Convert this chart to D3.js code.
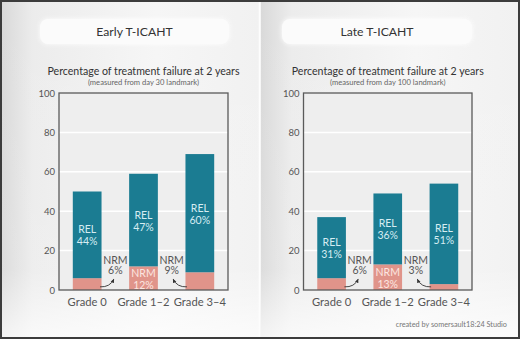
<!DOCTYPE html>
<html><head><meta charset="utf-8">
<script src="https://cdn.jsdelivr.net/npm/d3@7"></script>
<style>
html,body{margin:0;padding:0;background:#fff;}
svg{display:block;font-family:Lato,"Open Sans",sans-serif;}
</style></head><body>
<script>
// ---- data ----
const categories = ["Grade 0", "Grade 1\u20132", "Grade 3\u20134"];
const panelTitles = ["Early T-ICAHT", "Late T-ICAHT"];
const panelSubtitles = ["(measured from day 30 landmark)", "(measured from day 100 landmark)"];
const earlyNRM = [6, 12, 9];
const earlyREL = [44, 47, 60];
const lateNRM = [6, 13, 3];
const lateREL = [31, 36, 51];
const yTicks = [0, 20, 40, 60, 80, 100];
const mainSubtitle = "Percentage of treatment failure at 2 years";
const credit = "created by somersault18:24 Studio";

const W = 520, H = 339;
const REL_COLOR = "#1b7c92", NRM_COLOR = "#e0948a";

const svg = d3.select("body").append("svg").attr("width", W).attr("height", H);
const defs = svg.append("defs");

const bg = defs.append("linearGradient").attr("id", "bgGrad").attr("x1", 0).attr("x2", 1).attr("y1", 0).attr("y2", 0);
bg.append("stop").attr("offset", "0%").attr("stop-color", "#d9d9d9");
bg.append("stop").attr("offset", "12%").attr("stop-color", "#ececec");
bg.append("stop").attr("offset", "60%").attr("stop-color", "#f6f6f6");
bg.append("stop").attr("offset", "100%").attr("stop-color", "#f1f1f1");
const bgV = defs.append("linearGradient").attr("id", "bgV").attr("x1", 0).attr("x2", 0).attr("y1", 0).attr("y2", 1);
bgV.append("stop").attr("offset", "0%").attr("stop-color", "#fff").attr("stop-opacity", 0);
bgV.append("stop").attr("offset", "80%").attr("stop-color", "#fff").attr("stop-opacity", 0.1);
bgV.append("stop").attr("offset", "100%").attr("stop-color", "#fff").attr("stop-opacity", 0.7);

const glow = defs.append("filter").attr("id", "glow").attr("x", "-20%").attr("y", "-50%").attr("width", "140%").attr("height", "200%");
glow.append("feGaussianBlur").attr("stdDeviation", 2.5);

defs.append("marker").attr("id", "arrow").attr("viewBox", "0 0 10 10").attr("refX", 8).attr("refY", 5)
  .attr("markerWidth", 5).attr("markerHeight", 5).attr("orient", "auto")
  .append("path").attr("d", "M0,1 L9,5 L0,9 Z").attr("fill", "#333");

// background
svg.append("rect").attr("x", 0).attr("y", 0).attr("width", W).attr("height", H).attr("fill", "#f3f3f3");
[0, 1].forEach(i => {
  const g = svg.append("g").attr("transform", `translate(${i * 259},0)`);
  g.append("rect").attr("x", 2).attr("y", 2).attr("width", 257).attr("height", H - 4).attr("fill", "url(#bgGrad)");
  g.append("rect").attr("x", 2).attr("y", 2).attr("width", 257).attr("height", H - 4).attr("fill", "url(#bgV)");
});
svg.append("line").attr("x1", 259.5).attr("x2", 259.5).attr("y1", 2).attr("y2", H - 2).attr("stroke", "#fdfdfd").attr("stroke-width", 1.5);
svg.append("rect").attr("x", 1).attr("y", 1).attr("width", W - 2).attr("height", H - 2)
  .attr("fill", "none").attr("stroke", "#3c3c3c").attr("stroke-width", 2);

const panels = [
  {nrm: earlyNRM, rel: earlyREL, x0: 59, x1: 228, title: panelTitles[0], sub: panelSubtitles[0], boxX: 40, boxW: 189},
  {nrm: lateNRM, rel: lateREL, x0: 303.5, x1: 472, title: panelTitles[1], sub: panelSubtitles[1], boxX: 282, boxW: 190}
];
const yTop = 93, yBot = 290;
const y = d3.scaleLinear().domain([0, 100]).range([yBot, yTop]);

panels.forEach(p => {
  const g = svg.append("g");
  const cx = (p.x0 + p.x1) / 2;
  // title box
  g.append("rect").attr("x", p.boxX).attr("y", 19).attr("width", p.boxW).attr("height", 25).attr("rx", 8)
    .attr("fill", "#ffffff").attr("opacity", 0.9).attr("filter", "url(#glow)");
  g.append("rect").attr("x", p.boxX).attr("y", 19).attr("width", p.boxW).attr("height", 25).attr("rx", 8)
    .attr("fill", "#fbfbfb");
  g.append("text").attr("x", p.boxX + p.boxW / 2).attr("y", 35.5).attr("text-anchor", "middle")
    .attr("font-size", 12.2).attr("fill", "#333").text(p.title);
  g.append("text").attr("x", cx).attr("y", 75).attr("text-anchor", "middle")
    .attr("font-size", 10.6).attr("fill", "#333").text(mainSubtitle);
  g.append("text").attr("x", cx).attr("y", 85).attr("text-anchor", "middle")
    .attr("font-size", 7.6).attr("fill", "#666").text(p.sub);

  const x = d3.scaleBand().domain(categories).range([p.x0, p.x1]).paddingInner(0.49).paddingOuter(0.245);

  // plot background
  g.append("rect").attr("x", p.x0).attr("y", yTop).attr("width", p.x1 - p.x0).attr("height", yBot - yTop).attr("fill", "#eeeeee");
  // gridlines
  g.selectAll(".grid").data(yTicks.filter(t => t > 0 && t < 100)).join("line")
    .attr("x1", p.x0).attr("x2", p.x1).attr("y1", d => y(d)).attr("y2", d => y(d))
    .attr("stroke", "#ffffff").attr("stroke-width", 1.5);

  // y axis labels
  const yAxis = d3.axisLeft(y).tickValues(yTicks).tickSize(0).tickPadding(4);
  const ya = g.append("g").attr("transform", `translate(${p.x0},0)`).call(yAxis);
  ya.select(".domain").remove();
  ya.selectAll("text").attr("font-size", 9.5).attr("fill", "#555").attr("font-family", "Lato, sans-serif");

  // bars
  const data = categories.map((c, i) => ({c, nrm: p.nrm[i], rel: p.rel[i], i}));
  g.selectAll(".nrm").data(data).join("rect")
    .attr("x", d => x(d.c)).attr("width", x.bandwidth())
    .attr("y", d => y(d.nrm)).attr("height", d => y(0) - y(d.nrm)).attr("fill", NRM_COLOR);
  g.selectAll(".rel").data(data).join("rect")
    .attr("x", d => x(d.c)).attr("width", x.bandwidth())
    .attr("y", d => y(d.nrm + d.rel)).attr("height", d => y(d.nrm) - y(d.nrm + d.rel)).attr("fill", REL_COLOR);

  // REL labels
  data.forEach(d => {
    const mx = x(d.c) + x.bandwidth() / 2;
    const my = y(d.nrm + d.rel / 2);
    const t = g.append("text").attr("text-anchor", "middle").attr("font-size", 10.5).attr("fill", "#d6edf2");
    t.append("tspan").attr("x", mx).attr("y", my - 1.5).text("REL");
    t.append("tspan").attr("x", mx).attr("y", my + 10.5).text(d.rel + "%");
  });

  // NRM labels
  const step = x.step();
  data.forEach(d => {
    const mx = x(d.c) + x.bandwidth() / 2;
    if (d.nrm >= 10) {
      const my = y(d.nrm / 2);
      const t = g.append("text").attr("text-anchor", "middle").attr("font-size", 10.5).attr("fill", "#fce6e0");
      t.append("tspan").attr("x", mx).attr("y", my - 1.5).text("NRM");
      t.append("tspan").attr("x", mx).attr("y", my + 10.5).text(d.nrm + "%");
    } else {
      const dir = d.i === 0 ? 1 : -1;
      const lx = mx + dir * step / 2;
      const t = g.append("text").attr("text-anchor", "middle").attr("font-size", 10.5).attr("fill", "#555");
      t.append("tspan").attr("x", lx).attr("y", y(13.4)).text("NRM");
      t.append("tspan").attr("x", lx).attr("y", y(7.9)).text(d.nrm + "%");
      const sx = mx + dir * (x.bandwidth() / 2 - 1.5), sy = y(1.6);
      const ex = lx - dir * 1.5, ey = y(5.5);
      const cxp = sx + dir * 10, cyp = sy + 0.5;
      g.append("path").attr("d", `M${sx},${sy} Q${cxp},${cyp} ${ex},${ey}`)
        .attr("fill", "none").attr("stroke", "#333").attr("stroke-width", 0.9).attr("marker-end", "url(#arrow)");
    }
  });

  // frame
  g.append("rect").attr("x", p.x0).attr("y", yTop).attr("width", p.x1 - p.x0).attr("height", yBot - yTop)
    .attr("fill", "none").attr("stroke", "#5a5a5a").attr("stroke-width", 1.3);

  // x labels
  const xAxis = d3.axisBottom(x).tickSize(0).tickPadding(8);
  const xa = g.append("g").attr("transform", `translate(0,${yBot})`).call(xAxis);
  xa.select(".domain").remove();
  xa.selectAll("text").attr("font-size", 11.2).attr("fill", "#555").attr("font-family", "Lato, sans-serif");
});

svg.append("text").attr("x", 507).attr("y", 327).attr("text-anchor", "end")
  .attr("font-size", 7.3).attr("fill", "#777").text(credit);
</script>
</body></html>
